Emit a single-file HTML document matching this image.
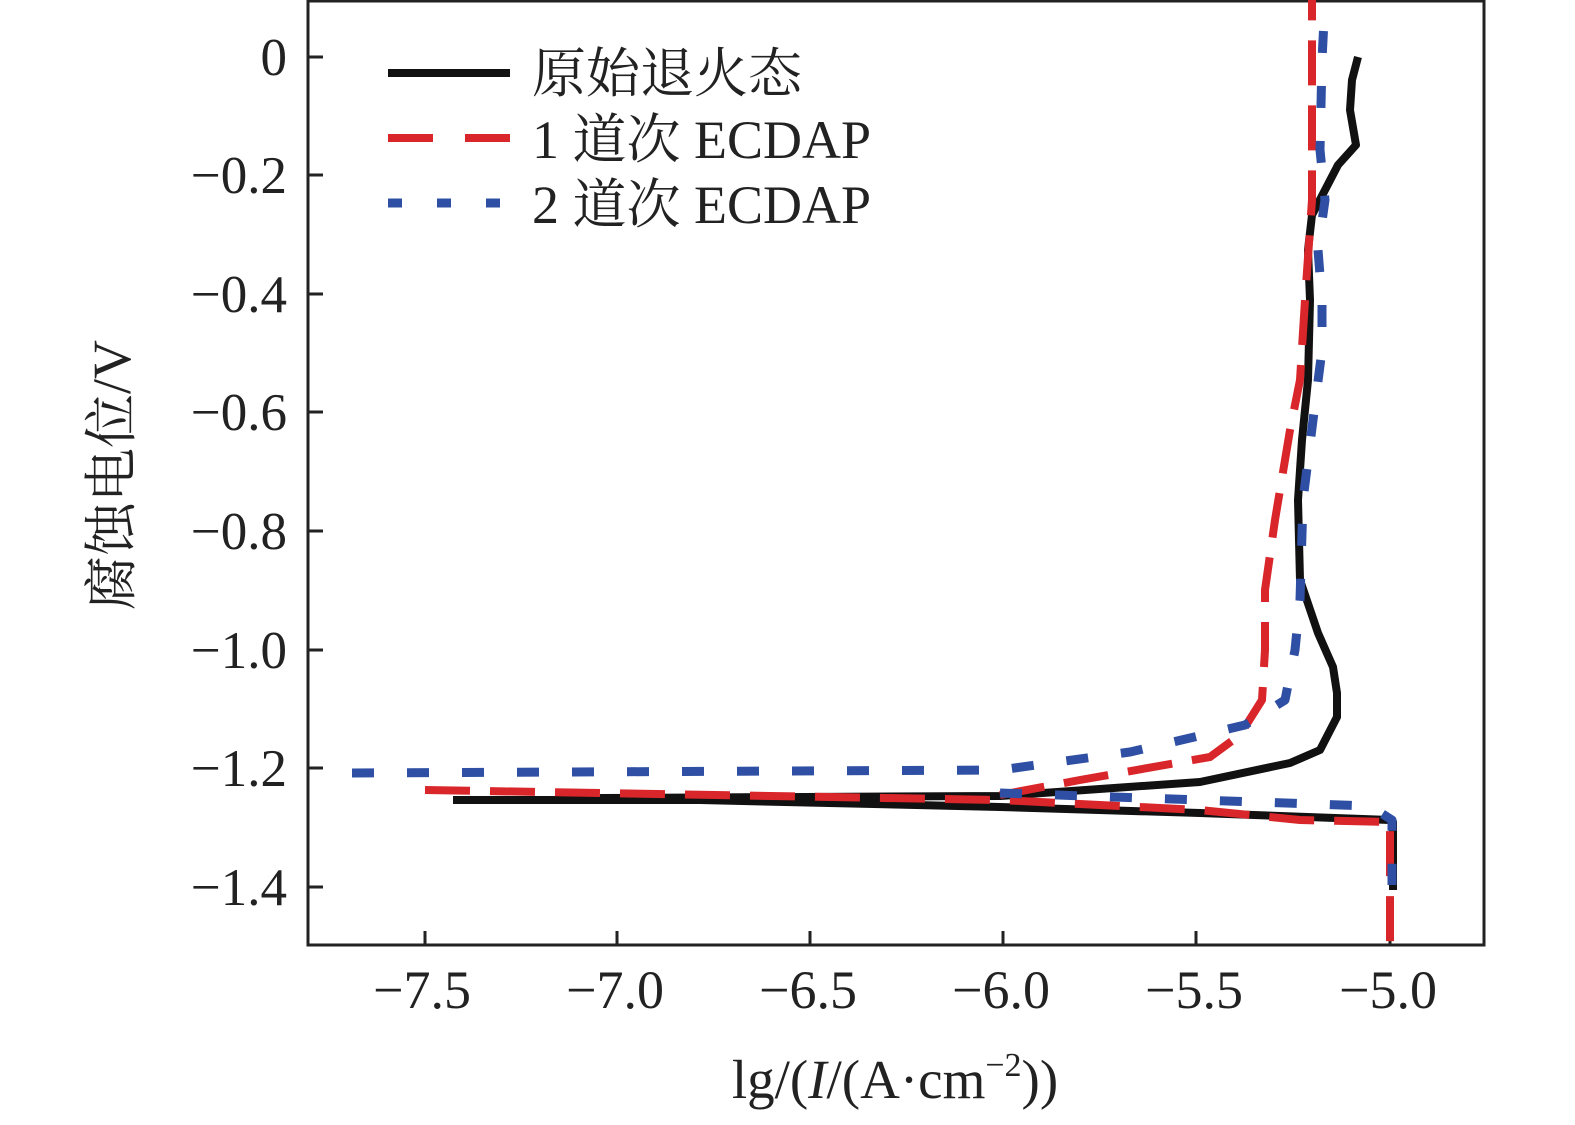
<!DOCTYPE html>
<html><head><meta charset="utf-8"><style>
body{margin:0;background:#fff}
svg text{font-family:"Liberation Serif","Noto Serif CJK SC",serif;fill:#222}
</style></head><body>
<svg width="1575" height="1120" viewBox="0 0 1575 1120" xmlns="http://www.w3.org/2000/svg">
<rect x="308" y="1" width="1176" height="944" fill="none" stroke="#222" stroke-width="3"/>
<g stroke="#222" stroke-width="3">
<line x1="425" y1="945" x2="425" y2="931"/><line x1="617" y1="945" x2="617" y2="931"/><line x1="810" y1="945" x2="810" y2="931"/><line x1="1003" y1="945" x2="1003" y2="931"/><line x1="1196" y1="945" x2="1196" y2="931"/><line x1="1390" y1="945" x2="1390" y2="931"/>
<line x1="308" y1="57" x2="323" y2="57"/><line x1="308" y1="175" x2="323" y2="175"/><line x1="308" y1="294" x2="323" y2="294"/><line x1="308" y1="412" x2="323" y2="412"/><line x1="308" y1="531" x2="323" y2="531"/><line x1="308" y1="650" x2="323" y2="650"/><line x1="308" y1="768" x2="323" y2="768"/><line x1="308" y1="887" x2="323" y2="887"/>
</g>
<g font-size="53" text-anchor="end">
<text x="287" y="75">0</text><text x="287" y="193">−0.2</text><text x="287" y="312">−0.4</text><text x="287" y="430">−0.6</text><text x="287" y="549">−0.8</text><text x="287" y="668">−1.0</text><text x="287" y="786">−1.2</text><text x="287" y="905">−1.4</text>
</g>
<g font-size="54" text-anchor="middle">
<text x="422" y="1008">−7.5</text><text x="615" y="1008">−7.0</text><text x="808" y="1008">−6.5</text><text x="1001" y="1008">−6.0</text><text x="1194" y="1008">−5.5</text><text x="1388" y="1008">−5.0</text>
<text x="895" y="1098" font-size="55">lg/(<tspan font-style="italic">I</tspan>/(A·cm<tspan font-size="34" dy="-22">−2</tspan><tspan dy="22">))</tspan></text>
</g>
<text transform="translate(130,475) rotate(-90)" font-size="54" text-anchor="middle">腐蚀电位/V</text>
<g fill="none" stroke-linejoin="round">
<path stroke="#111" stroke-width="8" d="M453,800 L700,800 L1000,807 L1200,813 L1390,820 L1393,822 L1393,890"/>
<path stroke="#111" stroke-width="8" d="M600,798 L1000,796 L1200,782 L1290,763 L1320,750 L1337,717 L1337,693 L1333,667 L1318,633 L1300,580 L1298,500 L1302,440 L1308,380 L1310,300 L1308,250 L1312,215 L1325,190 L1338,165 L1356,145 L1350,110 L1352,80 L1358,57"/>
<g stroke="#d9262a" stroke-width="8" stroke-dasharray="45,20">
<path d="M425,790 L600,793 L1000,800 L1200,810 L1300,820 L1390,822 L1390,945"/>
<path d="M1000,795 L1080,780 L1210,757 L1240,735 L1262,700 L1265,650 L1265,590 L1275,520 L1290,430 L1300,380 L1305,300 L1312,200 L1312,0"/>
</g>
<g stroke="#2e4fa3" stroke-width="9" stroke-dasharray="22,33">
<path d="M352,773 L1000,770 L1130,752 L1190,738 L1245,725 L1285,700 L1295,650 L1300,600 L1303,500 L1313,420 L1322,350 L1322,300 L1318,250 L1325,200 L1320,150 L1322,60 L1325,0"/>
<path d="M1000,793 L1200,800 L1370,806 L1392,820 L1392,885"/>
</g>
</g>
<line x1="388" y1="73" x2="510" y2="73" stroke="#111" stroke-width="8"/>
<line x1="388" y1="138" x2="510" y2="138" stroke="#d9262a" stroke-width="8" stroke-dasharray="45,32"/>
<line x1="388" y1="203" x2="510" y2="203" stroke="#2e4fa3" stroke-width="9" stroke-dasharray="14,35"/>
<g font-size="54">
<text x="532" y="92">原始退火态</text>
<text x="532" y="158">1 道次 ECDAP</text>
<text x="532" y="223">2 道次 ECDAP</text>
</g>
</svg>
</body></html>
